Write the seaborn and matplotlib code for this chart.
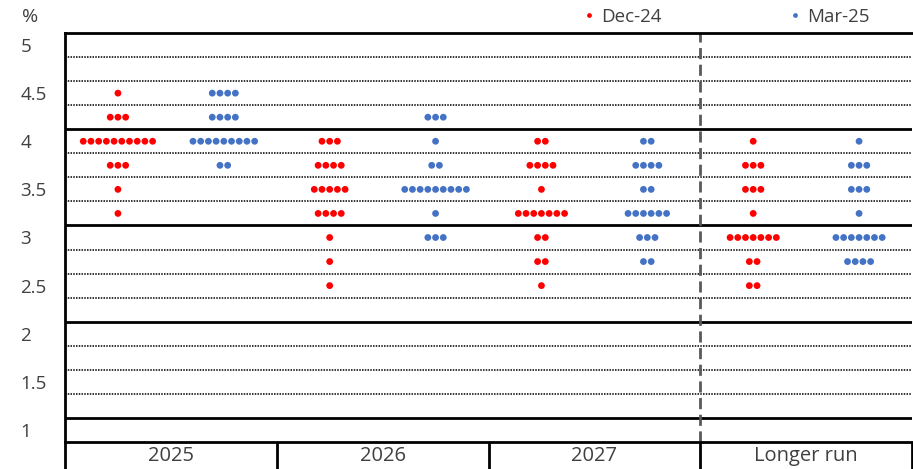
import numpy as np
import pandas as pd
import matplotlib
matplotlib.use("Agg")
import matplotlib.pyplot as plt
import seaborn as sns

sns.set_style("white")
plt.rcParams['font.family'] = ['Open Sans', 'DejaVu Sans']

# ---- data ----
categories = ["2025", "2026", "2027", "Longer run"]
series = ["Dec-24", "Mar-25"]
rate_levels = [4.375, 4.125, 3.875, 3.625, 3.375, 3.125, 2.875, 2.625, 2.375]

# dot counts per level (same order as rate_levels)
dec24_2025 = [1, 3, 10, 3, 1, 1, 0, 0, 0]
mar25_2025 = [4, 4, 9, 2, 0, 0, 0, 0, 0]
dec24_2026 = [0, 0, 3, 4, 5, 4, 1, 1, 1]
mar25_2026 = [0, 3, 1, 2, 9, 1, 3, 0, 0]
dec24_2027 = [0, 0, 2, 4, 1, 7, 2, 2, 1]
mar25_2027 = [0, 0, 2, 4, 2, 6, 3, 2, 0]
dec24_lr = [0, 0, 1, 3, 3, 1, 7, 2, 2]
mar25_lr = [0, 0, 1, 3, 3, 1, 7, 4, 0]

ytick_values = [5, 4.5, 4, 3.5, 3, 2.5, 2, 1.5, 1]
ytick_labels = ["5", "4.5", "4", "3.5", "3", "2.5", "2", "1.5", "1"]

colors = {"Dec-24": "#FF0000", "Mar-25": "#4472C4"}

counts = {
    ("2025", "Dec-24"): dec24_2025, ("2025", "Mar-25"): mar25_2025,
    ("2026", "Dec-24"): dec24_2026, ("2026", "Mar-25"): mar25_2026,
    ("2027", "Dec-24"): dec24_2027, ("2027", "Mar-25"): mar25_2027,
    ("Longer run", "Dec-24"): dec24_lr, ("Longer run", "Mar-25"): mar25_lr,
}

# ---- build dot table ----
offset = {"Dec-24": -0.25, "Mar-25": 0.25}
spacing = 0.0364
rows = []
for ci, cat in enumerate(categories):
    for s in series:
        for lvl, n in zip(rate_levels, counts[(cat, s)]):
            for k in range(n):
                rows.append({"x": ci + offset[s] + (k - (n - 1) / 2) * spacing,
                             "y": lvl, "series": s})
df = pd.DataFrame(rows)

W, H = 913, 469
fig = plt.figure(figsize=(W / 100, H / 100), dpi=100)
L, R, T, B = 65, 912, 33, 442
ax = fig.add_axes([L / W, (H - B) / H, (R - L) / W, (B - T) / H])

ax.set_xlim(-0.5, 3.5)
ax.set_ylim(0.75, 5.0)

# grid lines
for q in np.arange(1.0, 5.0, 0.25):
    if abs(q - round(q)) < 1e-9:
        ax.axhline(q, color="black", lw=2, zorder=1)
    else:
        ax.axhline(q, color="black", lw=1.1, ls=(0, (1, 0.8)), zorder=1)

# dashed separator before longer run
ax.axvline(2.5, color="#595959", lw=2, ls=(0, (4, 2)), zorder=1)

sns.scatterplot(data=df, x="x", y="y", hue="series", palette=colors,
                hue_order=series, s=24, edgecolor="none", linewidth=0,
                ax=ax, zorder=3)

# spines
ax.spines["right"].set_visible(False)
for sp in ["left", "top", "bottom"]:
    ax.spines[sp].set_linewidth(2)
    ax.spines[sp].set_color("black")

# category separator lines in the label area
ax.vlines([-0.5, 0.5, 1.5, 2.5, 3.5], 0.45, 0.75, color="black", lw=2,
          clip_on=False)

text_color = "#404040"
ax.set_yticks([v - 0.125 for v in ytick_values], ytick_labels)
ax.tick_params(axis="y", length=0, pad=32, labelsize=13.5, labelcolor=text_color)
for lab in ax.get_yticklabels():
    lab.set_horizontalalignment("left")

ax.set_xticks(range(len(categories)), categories)
ax.tick_params(axis="x", length=0, pad=3, labelsize=14.5, labelcolor=text_color)
ax.set_xlabel("")
ax.set_ylabel("")

fig.text(30 / W, 1 - 17 / H, "%", ha="center", va="center", fontsize=14,
         color=text_color)

leg = ax.legend(loc="center left", bbox_to_anchor=(580 / W, 1 - 17 / H),
                bbox_transform=fig.transFigure, ncol=2, frameon=False,
                markerscale=0.7, handletextpad=0.15, columnspacing=6.6,
                handlelength=1.0, fontsize=13.5, borderaxespad=0,
                borderpad=0)
for t in leg.get_texts():
    t.set_color(text_color)

fig.savefig("out.png", dpi=100, facecolor="white")
